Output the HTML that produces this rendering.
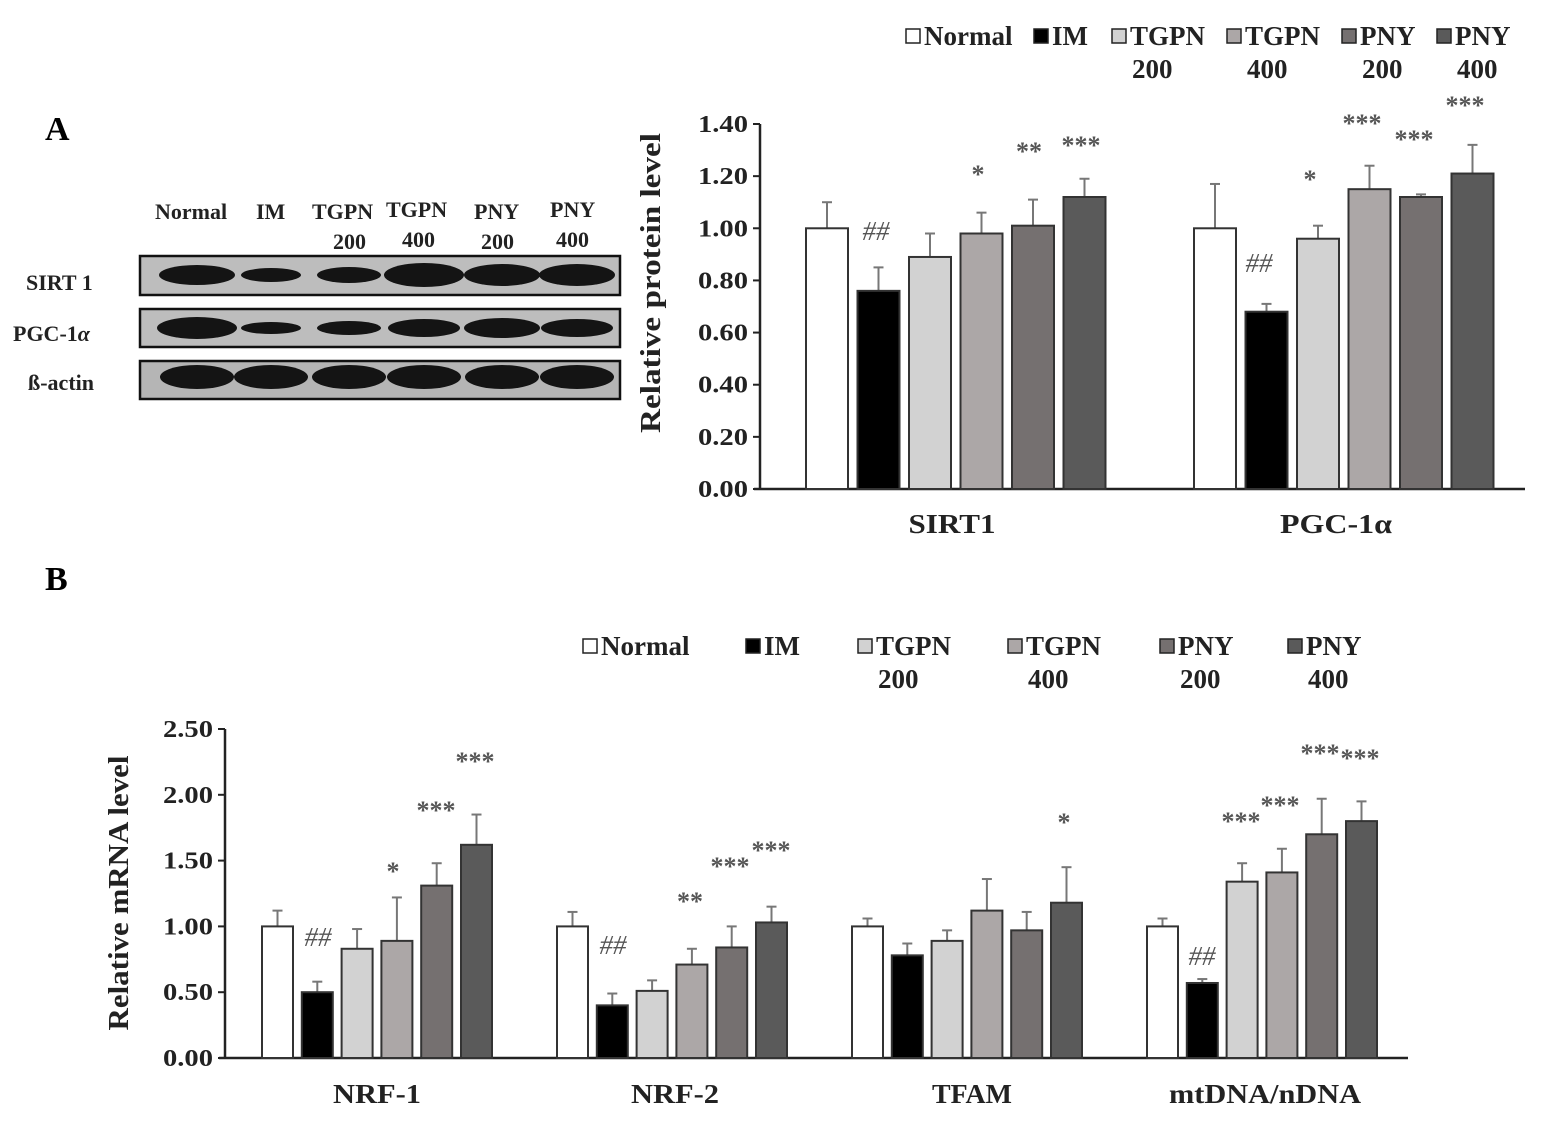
<!DOCTYPE html>
<html><head><meta charset="utf-8">
<style>
html,body{margin:0;padding:0;background:#fff;}
svg{display:block;font-family:"Liberation Serif",serif;font-weight:bold;}
</style></head>
<body>
<svg id="s" width="1544" height="1126" viewBox="0 0 1544 1126" xmlns="http://www.w3.org/2000/svg">
<rect width="1544" height="1126" fill="#fff"/>
<text x="45" y="140" font-size="34">A</text>
<text x="45" y="590" font-size="34">B</text>
<g font-size="22" fill="#222">
<text x="155" y="219">Normal</text><text x="256" y="219">IM</text>
<text x="312" y="219">TGPN</text><text x="386" y="217">TGPN</text>
<text x="474" y="219">PNY</text><text x="550" y="217">PNY</text>
<text x="333" y="249">200</text><text x="402" y="247">400</text>
<text x="481" y="249">200</text><text x="556" y="247">400</text>
<text x="26" y="290">SIRT 1</text><text x="13" y="341">PGC-1<tspan font-style="italic">α</tspan></text>
<text x="28" y="390">ß-actin</text>
</g>
<g stroke="#111" stroke-width="2.5">
<rect x="140" y="256" width="480" height="39" fill="#bdbdbd"/>
<rect x="140" y="309" width="480" height="38" fill="#bdbdbd"/>
<rect x="140" y="361" width="480" height="38" fill="#b5b5b5"/>
</g>
<g fill="#141414" id="bands"></g>
<g id="chA"></g>
<g id="chB"></g>
</svg>
<script>
var NS="http://www.w3.org/2000/svg";
function el(p,t,a,txt){var e=document.createElementNS(NS,t);for(var k in a)e.setAttribute(k,a[k]);if(txt!==undefined)e.textContent=txt;p.appendChild(e);return e;}
var b=document.getElementById('bands');
var bx=[197,271,349,424,502,577];
var bw1=[38,30,32,40,38,38],bh1=[10,7,8,12,11,11];
var bw2=[40,30,32,36,38,36],bh2=[11,6,7,9,10,9];
for(var i=0;i<6;i++){
 el(b,'ellipse',{cx:bx[i],cy:275,rx:bw1[i],ry:bh1[i]});
 el(b,'ellipse',{cx:bx[i],cy:328,rx:bw2[i],ry:bh2[i]});
 el(b,'ellipse',{cx:bx[i],cy:377,rx:37,ry:12});
}
var cols=['#fff','#000','#d2d2d2','#aca7a7','#757070','#5a5a5a'];
function chart(g,o){
 var gg=document.getElementById(g);
 el(gg,'line',{x1:o.ax,y1:o.y0+1,x2:o.ax,y2:o.ytop,stroke:'#222','stroke-width':2.5});
 el(gg,'line',{x1:o.ax-6,y1:o.y0,x2:o.xend,y2:o.y0,stroke:'#222','stroke-width':2.5});
 for(var t=0;t<=o.nt;t++){var v=t*o.step,y=o.y0-v/o.max*(o.y0-o.ytop);
  el(gg,'line',{x1:o.ax-7,y1:y,x2:o.ax,y2:y,stroke:'#222','stroke-width':2});
  el(gg,'text',{x:o.ax-12,y:y+8,'font-size':24,'text-anchor':'end',fill:'#222',textLength:50,lengthAdjust:'spacingAndGlyphs'},v.toFixed(2));}
 var sc=(o.y0-o.ytop)/o.max;
 o.groups.forEach(function(gr,gi){
  gr.v.forEach(function(v,i){
   var x=o.gx[gi]+i*o.sp,h=v*sc,y=o.y0-h,e=gr.e[i]*sc,cx=x+o.bw/2;
   el(gg,'line',{x1:cx,y1:y,x2:cx,y2:y-e,stroke:'#777','stroke-width':2});
   el(gg,'line',{x1:cx-5,y1:y-e,x2:cx+5,y2:y-e,stroke:'#777','stroke-width':2});
   el(gg,'rect',{x:x,y:y,width:o.bw,height:h,fill:cols[i],stroke:'#333','stroke-width':2});
  });
  el(gg,'text',{x:gr.lx,y:o.lab,'font-size':27,'text-anchor':'middle',fill:'#222',textLength:gr.w,lengthAdjust:'spacingAndGlyphs'},gr.name);
 });
 o.marks.forEach(function(m){var hh=m[2]=='##';
  el(gg,'text',{x:m[0],y:m[1],'font-size':hh?27:26,'text-anchor':'middle',fill:'#555','font-style':hh?'italic':'normal','font-weight':hh?'normal':'bold'},m[2]);});
 el(gg,'text',{x:0,y:0,'font-size':28,'text-anchor':'middle',fill:'#222',transform:'translate('+o.ylx+','+o.yly+') rotate(-90)',textLength:o.ylen,lengthAdjust:'spacingAndGlyphs'},o.ylab);
}
chart('chA',{ax:760,y0:489,ytop:124,max:1.4,step:0.2,nt:7,xend:1525,bw:42,sp:51.5,gx:[806,1194],lab:533,ylx:660,yly:283,ylen:300,ylab:'Relative protein level',
 groups:[{name:'SIRT1',w:87,lx:952,v:[1,0.76,0.89,0.98,1.01,1.12],e:[0.1,0.09,0.09,0.08,0.1,0.07]},
         {name:'PGC-1α',w:112,lx:1336,v:[1,0.68,0.96,1.15,1.12,1.21],e:[0.17,0.03,0.05,0.09,0.01,0.11]}],
 marks:[[876,240,'##'],[978,183,'*'],[1029,160,'**'],[1081,154,'***'],[1259,272,'##'],[1310,188,'*'],[1362,132,'***'],[1414,148,'***'],[1465,114,'***']]});
chart('chB',{ax:225,y0:1058,ytop:729,max:2.5,step:0.5,nt:5,xend:1408,bw:31,sp:39.8,gx:[262,557,852,1147],lab:1103,ylx:128,yly:893,ylen:275,ylab:'Relative mRNA level',
 groups:[{name:'NRF-1',w:88,lx:377,v:[1,0.5,0.83,0.89,1.31,1.62],e:[0.12,0.08,0.15,0.33,0.17,0.23]},
   {name:'NRF-2',w:88,lx:675,v:[1,0.4,0.51,0.71,0.84,1.03],e:[0.11,0.09,0.08,0.12,0.16,0.12]},
   {name:'TFAM',w:80,lx:972,v:[1,0.78,0.89,1.12,0.97,1.18],e:[0.06,0.09,0.08,0.24,0.14,0.27]},
   {name:'mtDNA/nDNA',w:192,lx:1265,v:[1,0.57,1.34,1.41,1.7,1.8],e:[0.06,0.03,0.14,0.18,0.27,0.15]}],
 marks:[[318,946,'##'],[393,880,'*'],[436,819,'***'],[475,770,'***'],[613,954,'##'],[690,910,'**'],[730,875,'***'],[771,859,'***'],[1064,831,'*'],[1202,965,'##'],[1241,830,'***'],[1280,814,'***'],[1320,762,'***'],[1360,767,'***']]});
var s=document.getElementById('s');
function leg(items,y){items.forEach(function(it,i){
 el(s,'rect',{x:it[0],y:y-16,width:14,height:14,fill:cols[i],stroke:'#222','stroke-width':1.5});
 el(s,'text',{x:it[0]+18,y:y,'font-size':27,fill:'#222'},it[1]);
 if(it[2])el(s,'text',{x:it[0]+20,y:y+33,'font-size':27,fill:'#222'},it[2]);});}
leg([[906,'Normal'],[1034,'IM'],[1112,'TGPN','200'],[1227,'TGPN','400'],[1342,'PNY','200'],[1437,'PNY','400']],45);
leg([[583,'Normal'],[746,'IM'],[858,'TGPN','200'],[1008,'TGPN','400'],[1160,'PNY','200'],[1288,'PNY','400']],655);
</script>
</body></html>
